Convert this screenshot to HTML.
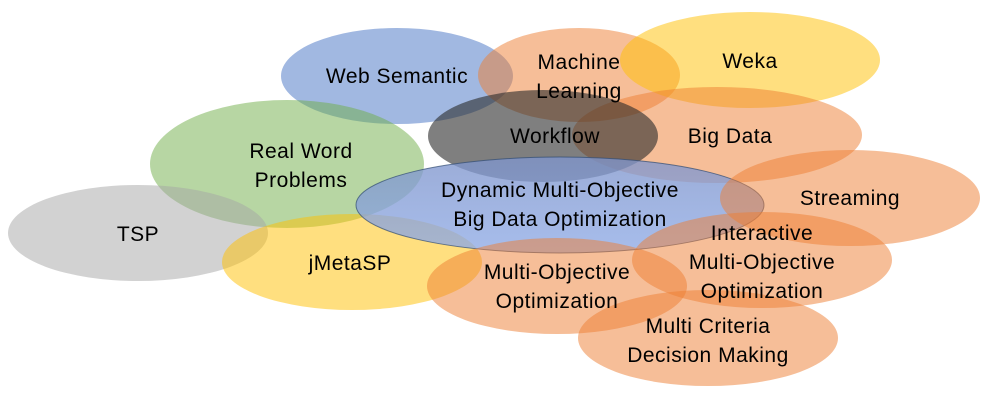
<!DOCTYPE html>
<html><head><meta charset="utf-8"><style>
html,body{margin:0;padding:0;background:#fff;width:1002px;height:411px;overflow:hidden}
text{font-family:"Liberation Sans",sans-serif;font-size:21px;letter-spacing:0.5px;fill:#000;text-anchor:middle}
</style></head><body>
<svg width="1002" height="411" viewBox="0 0 1002 411">
<defs><linearGradient id="g" x1="0" y1="0" x2="0" y2="1"><stop offset="0" stop-color="#7f95cc"/><stop offset="1" stop-color="#8eaae6"/></linearGradient></defs>
<ellipse cx="397" cy="76" rx="116" ry="48" fill="#4472C4" fill-opacity="0.5"/>
<ellipse cx="579" cy="75" rx="101" ry="47" fill="#ED7D31" fill-opacity="0.5"/>
<ellipse cx="750" cy="60" rx="130" ry="48" fill="#FFC000" fill-opacity="0.5"/>
<ellipse cx="717" cy="135" rx="145" ry="48" fill="#ED7D31" fill-opacity="0.5"/>
<ellipse cx="287" cy="164" rx="137" ry="64" fill="#70AD47" fill-opacity="0.5"/>
<ellipse cx="543" cy="136" rx="115" ry="46" fill="#2a2a2a" fill-opacity="0.6"/>
<ellipse cx="138" cy="233" rx="130" ry="48" fill="#A5A5A5" fill-opacity="0.5"/>
<ellipse cx="352" cy="262" rx="130" ry="48" fill="#FFC000" fill-opacity="0.5"/>
<ellipse cx="560" cy="205" rx="204" ry="48" fill="url(#g)" fill-opacity="0.78" stroke="#2f4a70" stroke-opacity="0.7" stroke-width="1"/>
<ellipse cx="850" cy="198" rx="130" ry="48" fill="#ED7D31" fill-opacity="0.5"/>
<ellipse cx="762" cy="260" rx="130" ry="48" fill="#ED7D31" fill-opacity="0.5"/>
<ellipse cx="557" cy="286" rx="130" ry="48" fill="#ED7D31" fill-opacity="0.5"/>
<ellipse cx="708" cy="338" rx="130" ry="48" fill="#ED7D31" fill-opacity="0.5"/>
<text x="397" y="83">Web Semantic</text>
<text x="579" y="69">Machine</text><text x="579" y="98">Learning</text>
<text x="750" y="68">Weka</text>
<text x="730" y="143">Big Data</text>
<text x="555" y="143">Workflow</text>
<text x="301" y="158">Real Word</text><text x="301" y="187">Problems</text>
<text x="850" y="205">Streaming</text>
<text x="560" y="197">Dynamic Multi-Objective</text><text x="560" y="226">Big Data Optimization</text>
<text x="138" y="241">TSP</text>
<text x="350" y="270">jMetaSP</text>
<text x="762" y="240">Interactive</text><text x="762" y="269">Multi-Objective</text><text x="762" y="298">Optimization</text>
<text x="557" y="279">Multi-Objective</text><text x="557" y="308">Optimization</text>
<text x="708" y="333">Multi Criteria</text><text x="708" y="362">Decision Making</text>
</svg>
</body></html>
